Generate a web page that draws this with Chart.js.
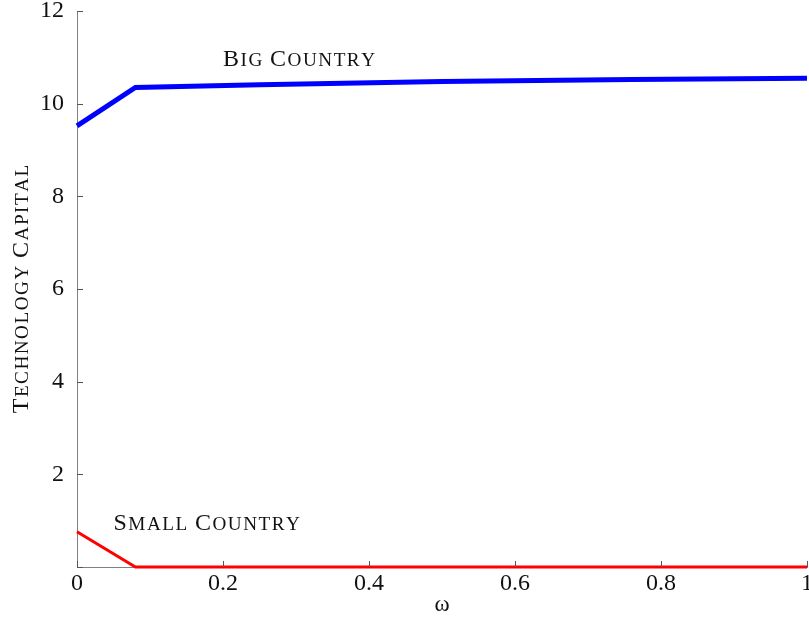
<!DOCTYPE html>
<html>
<head>
<meta charset="utf-8">
<script src="https://cdn.jsdelivr.net/npm/chart.js@4.4.0/dist/chart.umd.min.js"></script>
<style>
html, body { margin: 0; padding: 0; background: #fff; }
#wrap { width: 809px; height: 621px; }
</style>
</head>
<body>
<div id="wrap"><canvas id="chart"></canvas></div>
<script>
// data
const omega = [0, 0.08, 0.25, 0.5, 0.76, 1];
const bigCountry = [9.52, 10.35, 10.41, 10.48, 10.52, 10.55];
const smallCountry = [0.76, 0, 0, 0, 0, 0];
const xTicks = [0, 0.2, 0.4, 0.6, 0.8, 1];
const yTicks = [0, 2, 4, 6, 8, 10, 12];
const lineLabels = ['Big Country', 'Small Country'];
const labelAt = [[0.2, 10.82], [0.05, 0.8]];
const yTitle = 'Technology Capital';

const FONT = '"Liberation Serif", "Times New Roman", serif';

// fake small caps: capitals full size, the rest upper case but smaller
function smallCaps(ctx, text, x, y, size, measureOnly) {
    let cx = x;
    for (const ch of text) {
        const upper = ch !== ' ' && ch === ch.toUpperCase();
        const s = upper ? size : size * 0.8;
        ctx.font = s + 'px ' + FONT;
        const c = ch.toUpperCase();
        if (!measureOnly) ctx.fillText(c, cx, y);
        cx += ctx.measureText(c).width + 1.5;
    }
    return cx - x - 1.5;
}

const pts = (ys) => omega.map((x, i) => ({x: x, y: ys[i]}));

const decorations = {
    id: 'decorations',
    afterDraw(chart) {
        const ctx = chart.ctx;
        const xs = chart.scales.x, ys = chart.scales.y;
        ctx.save();
        // inward tick marks
        ctx.strokeStyle = '#555';
        ctx.lineWidth = 1;
        ctx.beginPath();
        xTicks.forEach(v => {
            const px = Math.round(xs.getPixelForValue(v)) + 0.5;
            ctx.moveTo(px, ys.bottom);
            ctx.lineTo(px, ys.bottom - 6);
        });
        yTicks.forEach(v => {
            const py = Math.round(ys.getPixelForValue(v)) + 0.5;
            ctx.moveTo(xs.left, py);
            ctx.lineTo(xs.left + 6, py);
        });
        ctx.stroke();

        // line labels
        ctx.fillStyle = '#111';
        ctx.textBaseline = 'alphabetic';
        ctx.textAlign = 'left';
        lineLabels.forEach((t, i) => {
            smallCaps(ctx, t, xs.getPixelForValue(labelAt[i][0]), ys.getPixelForValue(labelAt[i][1]), 24);
        });

        // y axis title
        const w = smallCaps(ctx, yTitle, 0, 0, 24, true);
        ctx.translate(28, (ys.top + ys.bottom) / 2);
        ctx.rotate(-Math.PI / 2);
        smallCaps(ctx, yTitle, -w / 2, 0, 24);
        ctx.restore();
    }
};

let ctx = document.getElementById('chart').getContext('2d');
let chart = new Chart(ctx, {
    type: 'line',
    data: {
        datasets: [{
            label: lineLabels[0],
            data: pts(bigCountry),
            borderColor: '#0000ff',
            borderWidth: 5,
            pointRadius: 0,
            tension: 0,
            clip: false
        }, {
            label: lineLabels[1],
            data: pts(smallCountry),
            borderColor: '#ff0000',
            borderWidth: 3,
            pointRadius: 0,
            tension: 0,
            clip: false
        }]
    },
    options: {
        responsive: true,
        maintainAspectRatio: false,
        animation: false,
        layout: { padding: { top: 11, right: 2, left: 0, bottom: 0 } },
        plugins: { legend: { display: false }, tooltip: { enabled: false } },
        scales: {
            x: {
                type: 'linear',
                min: 0,
                max: 1,
                afterBuildTicks: s => { s.ticks = xTicks.map(v => ({value: v})); },
                afterFit: s => { s.height = 54; s.paddingLeft = 0; s.paddingRight = 0; },
                grid: { display: false },
                border: { color: '#808080', width: 1 },
                ticks: {
                    color: '#111',
                    padding: -6,
                    maxRotation: 0,
                    autoSkip: false,
                    font: { family: FONT, size: 24 },
                    callback: v => String(v)
                },
                title: {
                    display: true,
                    text: 'ω',
                    color: '#111',
                    padding: { top: 0, bottom: 2 },
                    font: { family: FONT, size: 23 }
                }
            },
            y: {
                min: 0,
                max: 12,
                afterBuildTicks: s => { s.ticks = yTicks.map(v => ({value: v})); },
                afterFit: s => { s.width = 77; s.paddingTop = 0; s.paddingBottom = 0; },
                grid: { display: false },
                border: { color: '#808080', width: 1 },
                ticks: {
                    color: '#111',
                    padding: 5,
                    font: { family: FONT, size: 24 },
                    callback: v => v === 0 ? '' : String(v)
                }
            }
        }
    },
    plugins: [decorations]
});
</script>
</body>
</html>
